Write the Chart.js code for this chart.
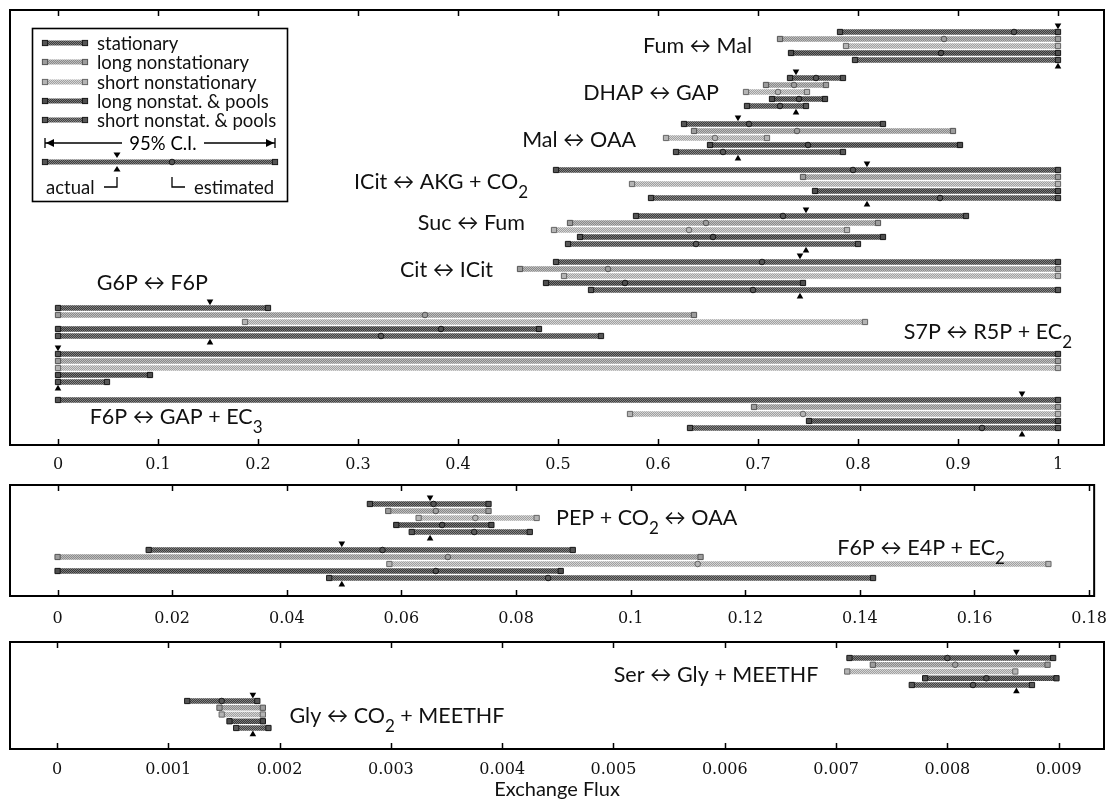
<!DOCTYPE html>
<html><head><meta charset="utf-8">
<script src="https://cdn.jsdelivr.net/npm/chart.js@4.4.1/dist/chart.umd.min.js"></script>
<style>
html,body{margin:0;padding:0;background:#fff;}
#wrap{position:relative;width:1120px;height:802px;overflow:hidden;}
.pane{position:absolute;left:0;width:1120px;}
</style></head><body>
<div id="wrap">
  <div class="pane" style="top:0;height:475px"><canvas id="cTop"></canvas></div>
  <div class="pane" style="top:475px;height:151px"><canvas id="cMid"></canvas></div>
  <div class="pane" style="top:626px;height:176px"><canvas id="cBot"></canvas></div>
</div>
<script>
// ---------------- DATA ----------------
const scenarios = ['stationary','long nonstationary','short nonstationary','long nonstat. & pools','short nonstat. & pools'];

// each entry: [lower 95% bound, upper 95% bound, estimated value]
const topReactions = ['Fum ↔ Mal','DHAP ↔ GAP','Mal ↔ OAA','ICit ↔ AKG + CO_2','Suc ↔ Fum','Cit ↔ ICit','G6P ↔ F6P','S7P ↔ R5P + EC_2','F6P ↔ GAP + EC_3'];
const topStationary   = [[0.782,1,0.956],[0.732,0.785,0.758],[0.626,0.825,0.691],[0.498,1,0.795],[0.578,0.908,0.725],[0.498,1,0.704],[0,0.21,null],[0,1,null],[0,1,null]];
const topLongNonstat  = [[0.722,1,0.886],[0.708,0.768,0.736],[0.636,0.895,0.739],[0.745,1,null],[0.512,0.82,0.648],[0.462,1,0.55],[0,0.636,0.367],[0,1,null],[0.696,1,null]];
const topShortNonstat = [[0.788,1,null],[0.688,0.749,0.72],[0.608,0.709,0.657],[0.574,1,null],[0.496,0.789,0.631],[0.506,1,null],[0.187,0.807,null],[0,1,null],[0.572,1,0.745]];
const topLongPools    = [[0.733,1,0.883],[0.714,0.767,0.741],[0.652,0.902,0.75],[0.757,1,null],[0.522,0.825,0.655],[0.488,0.745,0.567],[0,0.481,0.383],[0,0.092,null],[0.751,1,null]];
const topShortPools   = [[0.797,1,null],[0.689,0.748,0.722],[0.618,0.785,0.665],[0.593,1,0.882],[0.51,0.80,0.638],[0.533,1,0.695],[0,0.543,0.323],[0,0.049,null],[0.632,1,0.924]];
const topActual = [1.0,0.738,0.68,0.809,0.748,0.742,0.152,0,0.964];
const topTicks = [0,0.1,0.2,0.3,0.4,0.5,0.6,0.7,0.8,0.9,1];
const topTickLabels = ['0','0.1','0.2','0.3','0.4','0.5','0.6','0.7','0.8','0.9','1'];

const midReactions = ['PEP + CO_2 ↔ OAA','F6P ↔ E4P + EC_2'];
const midStationary   = [[0.0545,0.0752,0.0656],[0.0159,0.0899,0.0567]];
const midLongNonstat  = [[0.0577,0.0752,0.066],[0,0.1122,0.0681]];
const midShortNonstat = [[0.063,0.0836,0.0729],[0.0579,0.1729,0.1117]];
const midLongPools    = [[0.0591,0.0757,0.0671],[0,0.0878,0.066]];
const midShortPools   = [[0.0618,0.0824,0.0727],[0.0474,0.1423,0.0856]];
const midActual = [0.065,0.0496];
const midTicks = [0,0.02,0.04,0.06,0.08,0.1,0.12,0.14,0.16,0.18];
const midTickLabels = ['0','0.02','0.04','0.06','0.08','0.1','0.12','0.14','0.16','0.18'];

const botReactions = ['Ser ↔ Gly + MEETHF','Gly ↔ CO_2 + MEETHF'];
const botStationary   = [[0.00712,0.00895,0.0080],[0.00117,0.0018,0.00148]];
const botLongNonstat  = [[0.00733,0.0089,0.00807],[0.00146,0.00185,null]];
const botShortNonstat = [[0.0071,0.00861,null],[0.00148,0.00185,null]];
const botLongPools    = [[0.0078,0.00898,0.00835],[0.00155,0.00185,null]];
const botShortPools   = [[0.00768,0.00876,0.00823],[0.00161,0.0019,null]];
const botActual = [0.00862,0.00176];
const botTicks = [0,0.001,0.002,0.003,0.004,0.005,0.006,0.007,0.008,0.009];
const botTickLabels = ['0','0.001','0.002','0.003','0.004','0.005','0.006','0.007','0.008','0.009'];
const axisTitle = 'Exchange Flux';

// ---------------- STYLE ----------------
const LABEL_FONT = 'Lato, "DejaVu Sans", sans-serif';
const TICK_FONT = '"DejaVu Serif", serif';
const LABEL_SIZE = 21.5;
const STYLES = [
  {c1:'#3e3e3e', c2:'#808080', cap:'#555555', edge:'#1a1a1a'},
  {c1:'#8a8a8a', c2:'#bdbdbd', cap:'#9c9c9c', edge:'#555555'},
  {c1:'#a0a0a0', c2:'#d4d4d4', cap:'#b4b4b4', edge:'#666666'},
  {c1:'#383838', c2:'#787878', cap:'#4e4e4e', edge:'#161616'},
  {c1:'#424242', c2:'#868686', cap:'#585858', edge:'#1a1a1a'}
];
function makePattern(c1, c2){
  const cv = document.createElement('canvas'); cv.width = 2; cv.height = 2;
  const x = cv.getContext('2d');
  x.fillStyle = c1; x.fillRect(0,0,2,2);
  x.fillStyle = c2; x.fillRect(0,0,1,1); x.fillRect(1,1,1,1);
  return x.createPattern(cv, 'repeat');
}
const PATTERNS = STYLES.map(s => makePattern(s.c1, s.c2));

function segs(text){
  const out=[]; const re=/_(\w)/g; let last=0, m;
  while((m=re.exec(text))){ if(m.index>last) out.push({t:text.slice(last,m.index),sub:false}); out.push({t:m[1],sub:true}); last=re.lastIndex; }
  if(last<text.length) out.push({t:text.slice(last),sub:false});
  return out;
}
function drawRich(ctx, text, xRight, yc, size){
  const parts = segs(text);
  const mainF = size+'px '+LABEL_FONT, subF = Math.round(size*0.8)+'px '+LABEL_FONT;
  let w=0; parts.forEach(p=>{ctx.font=p.sub?subF:mainF; p.w=ctx.measureText(p.t).width; w+=p.w;});
  let x = xRight - w;
  ctx.textBaseline='middle'; ctx.textAlign='left'; ctx.fillStyle='#111';
  parts.forEach(p=>{ctx.font=p.sub?subF:mainF; ctx.fillText(p.t, x, yc + (p.sub? size*0.5 : 0)); x+=p.w;});
}

function sampleBar(ctx, x0, x1, y, s, est){
  const st = STYLES[s];
  ctx.fillStyle = PATTERNS[s]; ctx.fillRect(x0, y-2.5, x1-x0, 5);
  ctx.lineWidth = 1; ctx.strokeStyle = st.edge; ctx.fillStyle = st.cap;
  [x0, x1].forEach(x=>{ ctx.fillRect(x-2.6,y-2.6,5.2,5.2); ctx.strokeRect(x-2.6,y-2.6,5.2,5.2); });
  if(est!==undefined){ ctx.beginPath(); ctx.arc(est,y,2.8,0,Math.PI*2); ctx.fill(); ctx.stroke(); }
}
function tri(ctx, x, y, down){
  ctx.fillStyle='#000'; ctx.beginPath();
  if(down){ ctx.moveTo(x-3.5,y-2.5); ctx.lineTo(x+3.5,y-2.5); ctx.lineTo(x,y+3); }
  else { ctx.moveTo(x-3.5,y+2.5); ctx.lineTo(x+3.5,y+2.5); ctx.lineTo(x,y-3); }
  ctx.closePath(); ctx.fill();
}
function drawLegend(ctx){
  ctx.save();
  ctx.fillStyle='#fff'; ctx.fillRect(32,28,255,173);
  ctx.strokeStyle='#000'; ctx.lineWidth=1.6; ctx.strokeRect(32.5,28.5,255,173);
  const ys=[43,62,82,101,120];
  scenarios.forEach((name,s)=>{
    sampleBar(ctx,45,85,ys[s],s);
    ctx.fillStyle='#111'; ctx.font='18.5px '+LABEL_FONT; ctx.textBaseline='middle'; ctx.textAlign='left';
    ctx.fillText(name,97,ys[s]+1);
  });
  // 95% C.I. arrows
  const yc=143;
  ctx.strokeStyle='#000'; ctx.lineWidth=1.3; ctx.fillStyle='#000';
  ctx.beginPath(); ctx.moveTo(45,yc-5); ctx.lineTo(45,yc+5); ctx.moveTo(45,yc); ctx.lineTo(122,yc);
  ctx.moveTo(204,yc); ctx.lineTo(275,yc); ctx.moveTo(275,yc-5); ctx.lineTo(275,yc+5); ctx.stroke();
  ctx.beginPath(); ctx.moveTo(46,yc); ctx.lineTo(54,yc-4); ctx.lineTo(54,yc+4); ctx.closePath(); ctx.fill();
  ctx.beginPath(); ctx.moveTo(274,yc); ctx.lineTo(266,yc-4); ctx.lineTo(266,yc+4); ctx.closePath(); ctx.fill();
  ctx.font='18.5px '+LABEL_FONT; ctx.textAlign='center'; ctx.textBaseline='middle';
  ctx.fillText('95% C.I.',163,yc+1);
  // sample bar with actual and estimated
  sampleBar(ctx,45,275,162,0,172);
  tri(ctx,117,155,true); tri(ctx,117,169,false);
  ctx.strokeStyle='#000'; ctx.lineWidth=1.3;
  ctx.beginPath(); ctx.moveTo(104,187); ctx.lineTo(117,187); ctx.lineTo(117,177); ctx.stroke();
  ctx.beginPath(); ctx.moveTo(172,177); ctx.lineTo(172,187); ctx.lineTo(185,187); ctx.stroke();
  ctx.fillStyle='#111'; ctx.textAlign='left'; ctx.font='18.5px '+LABEL_FONT;
  ctx.fillText('actual',46,188); ctx.fillText('estimated',194,188);
  ctx.restore();
}

function buildPanel(id, p){
  const datasets = [];
  p.series.forEach((ser, s) => {
    const st = STYLES[s];
    const yOf = g => g*p.groupStep + s;
    datasets.push({type:'bar', label:scenarios[s], indexAxis:'y',
      data: ser.map((v,g)=>({x:[v[0],v[1]], y:yOf(g)})),
      backgroundColor: PATTERNS[s], borderWidth:0, barThickness:5, grouped:false, order:3});
    const caps=[]; ser.forEach((v,g)=>{ caps.push({x:v[0],y:yOf(g)},{x:v[1],y:yOf(g)}); });
    datasets.push({type:'scatter', data:caps, pointStyle:'rect', pointRadius:3.7, pointHoverRadius:3.7,
      pointBackgroundColor:st.cap, pointBorderColor:st.edge, pointBorderWidth:1, order:2});
    const est=[]; ser.forEach((v,g)=>{ if(v[2]!==null) est.push({x:v[2],y:yOf(g)}); });
    datasets.push({type:'scatter', data:est, pointStyle:'circle', pointRadius:2.8, pointHoverRadius:2.8,
      pointBackgroundColor:st.cap, pointBorderColor:st.edge, pointBorderWidth:1, order:1});
  });
  datasets.push({type:'scatter', data:p.actual.map((a,g)=>({x:a,y:g*p.groupStep-0.95})), pointStyle:'triangle',
    pointRotation:180, pointRadius:3.8, pointHoverRadius:3.8, pointBackgroundColor:'#000', pointBorderWidth:0, order:0});
  datasets.push({type:'scatter', data:p.actual.map((a,g)=>({x:a,y:g*p.groupStep+4.95})), pointStyle:'triangle',
    pointRotation:0, pointRadius:3.8, pointHoverRadius:3.8, pointBackgroundColor:'#000', pointBorderWidth:0, order:0});

  const framePlugin = {
    id:'frame'+id,
    afterDraw(chart){
      const ctx = chart.ctx, a = chart.chartArea, xs = chart.scales.x, ys = chart.scales.y;
      ctx.save();
      ctx.strokeStyle='#000'; ctx.lineWidth=2;
      ctx.strokeRect(a.left, a.top, a.right-a.left, a.bottom-a.top);
      ctx.lineWidth=1.5;
      p.ticks.forEach(v=>{
        const x = Math.round(xs.getPixelForValue(v))+0.5;
        ctx.beginPath(); ctx.moveTo(x,a.bottom); ctx.lineTo(x,a.bottom-6);
        ctx.moveTo(x,a.top); ctx.lineTo(x,a.top+6); ctx.stroke();
      });
      p.reactions.forEach((name,g)=>{
        drawRich(ctx, name, xs.getPixelForValue(p.labelX[g]), ys.getPixelForValue(g*p.groupStep + p.labelRow[g]), LABEL_SIZE);
      });
      if(p.legend) drawLegend(ctx);
      if(p.title){
        ctx.font='20px '+LABEL_FONT; ctx.fillStyle='#111'; ctx.textAlign='center'; ctx.textBaseline='middle';
        ctx.fillText(p.title, (a.left+a.right)/2, p.titleY);
      }
      ctx.restore();
    }
  };

  new Chart(document.getElementById(id), {
    type:'bar',
    data:{datasets},
    options:{
      responsive:true, maintainAspectRatio:false, animation:false, devicePixelRatio:1,
      events:[],
      layout:{padding:{left:10,right:16,top:p.padTop,bottom:0}},
      plugins:{legend:{display:false}, tooltip:{enabled:false}},
      scales:{
        x:{type:'linear', min:p.xmin, max:p.xmax, offset:false,
          grid:{display:false, drawTicks:false}, border:{display:false},
          afterBuildTicks: sc => { sc.ticks = p.ticks.map(v=>({value:v})); },
          afterFit: sc => { sc.height = p.axisH; },
          ticks:{autoSkip:false, maxRotation:0, minRotation:0, padding:p.tickPad, color:'#111',
            font:{family:TICK_FONT, size:16}, callback:(v,i)=>p.tickLabels[i]}},
        y:{type:'linear', display:false, reverse:true, min:p.ymin, max:p.ymax, offset:false}
      }
    },
    plugins:[framePlugin]
  });
}

buildPanel('cTop', {
  reactions: topReactions,
  series: [topStationary, topLongNonstat, topShortNonstat, topLongPools, topShortPools],
  actual: topActual, ticks: topTicks, tickLabels: topTickLabels,
  xmin:-0.048, xmax:1.046, ymin:-3.14, ymax:58.99, groupStep:6.57,
  padTop:10, axisH:30, tickPad:10,
  labelX:[0.694,0.661,0.578,0.470,0.467,0.435,0.150,1.014,0.2045],
  labelRow:[2.0,2.15,2.29,1.72,1.01,1.15,-3.5,-3.13,2.44],
  legend:true
});
buildPanel('cMid', {
  reactions: midReactions,
  series: [midStationary, midLongNonstat, midShortNonstat, midLongPools, midShortPools],
  actual: midActual, ticks: midTicks, tickLabels: midTickLabels,
  xmin:-0.0083, xmax:0.18088, ymin:-2.71, ymax:13.14, groupStep:6.57,
  padTop:10, axisH:30, tickPad:13,
  labelX:[0.1186,0.1653], labelRow:[2.0,-0.29]
});
buildPanel('cBot', {
  reactions: botReactions,
  series: [botStationary, botLongNonstat, botShortNonstat, botLongPools, botShortPools],
  actual: botActual, ticks: botTicks, tickLabels: botTickLabels,
  xmin:-0.000422, xmax:0.009407, ymin:-2.37, ymax:13.48, groupStep:6.37,
  padTop:16, axisH:53, tickPad:11,
  labelX:[0.00684,0.00402], labelRow:[2.5,2.2],
  title: axisTitle, titleY: 164
});
</script>
</body></html>
